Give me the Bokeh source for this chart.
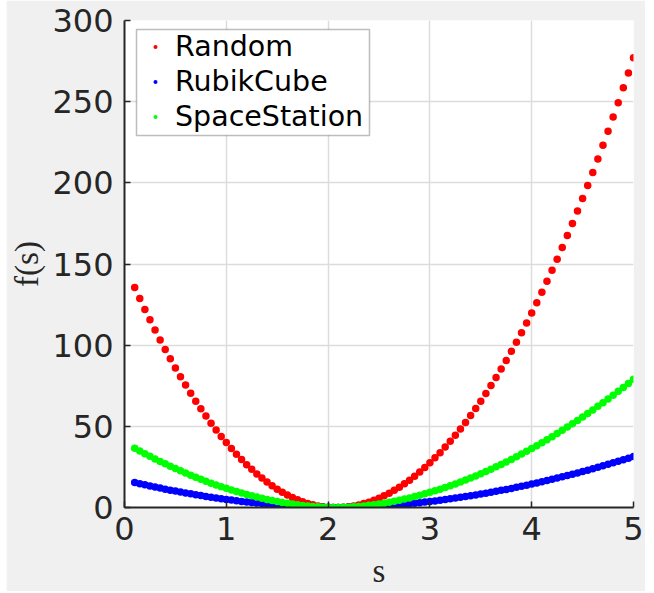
import numpy as np
from bokeh.plotting import figure
from bokeh.models import (ColumnDataSource, FixedTicker, Legend, LegendItem,
                          Range1d, BoxAnnotation, Spacer)
from bokeh.layouts import row
from bokeh.embed import file_html
from bokeh.resources import INLINE

# sample grid of step sizes s (0.10 ... 5.00)
s = np.round(np.arange(0.10, 5.0001, 0.05), 2)

# objective values f(s) for each test problem
f_random = [
    135.5, 128.7, 122.0, 115.6, 109.3, 103.2, 97.3, 91.6, 86.0,
    80.6, 75.4, 70.4, 65.5, 60.8, 56.3, 51.9, 47.8, 43.8, 40.0,
    36.3, 32.8, 29.5, 26.4, 23.5, 20.7, 18.1, 15.7, 13.4, 11.3,
    9.4, 7.7, 6.2, 4.8, 3.6, 2.5, 1.7, 1.0, 0.5, 0.2,
    0.0,
    0.0, 0.2, 0.5, 0.9, 1.6, 2.4, 3.3, 4.4, 5.7, 7.2,
    8.8, 10.6, 12.5, 14.6, 16.8, 19.3, 21.9, 24.6, 27.5,
    30.6, 33.8, 37.2, 40.8, 44.5, 48.4, 52.4, 56.6, 61.0, 65.5,
    70.2, 75.1, 80.1, 85.3, 90.6, 96.2, 101.8, 107.7, 113.7, 119.8,
    126.1, 132.6, 139.3, 146.1, 153.0, 160.2, 167.5, 174.9, 182.6, 190.3,
    198.3, 206.4, 214.7, 223.1, 231.7, 240.5, 249.4, 258.5, 267.7, 277.1,
]

f_rubik = [
    15.4, 14.7, 14.0, 13.3, 12.6, 12.0, 11.3, 10.7, 10.1, 9.5,
    8.96, 8.40, 7.86, 7.34, 6.83, 6.34, 5.87, 5.41, 4.97, 4.55,
    4.15, 3.76, 3.39, 3.04, 2.71, 2.39, 2.09, 1.81, 1.55, 1.31,
    1.08, 0.88, 0.70, 0.53, 0.39, 0.27, 0.17, 0.09, 0.03, 0.00,
    0.00, 0.03, 0.09, 0.16, 0.26, 0.38, 0.52, 0.69, 0.87, 1.07,
    1.29, 1.52, 1.78, 2.06, 2.35, 2.67, 2.99, 3.34, 3.70,
    4.08, 4.48, 4.89, 5.33, 5.78, 6.24, 6.72, 7.22, 7.73, 8.26,
    8.81, 9.37, 9.95, 10.55, 11.15, 11.78, 12.42, 13.08, 13.75, 14.44,
    15.14, 15.86, 16.60, 17.34, 18.11, 18.89, 19.69, 20.50, 21.32, 22.16,
    23.01, 23.88, 24.77, 25.67, 26.58, 27.51, 28.45, 29.41, 30.38, 31.37,
]

f_station = [
    36.5, 34.8, 33.1, 31.5, 29.9, 28.4, 26.9, 25.4, 24.0, 22.6,
    21.2, 19.9, 18.6, 17.4, 16.2, 15.0, 13.9, 12.8, 11.8, 10.8,
    9.8, 8.9, 8.0, 7.2, 6.4, 5.7, 5.0, 4.3, 3.7, 3.1,
    2.6, 2.1, 1.65, 1.26, 0.92, 0.63, 0.39, 0.21, 0.08, 0.01,
    0.01, 0.08, 0.22, 0.41, 0.66, 0.96, 1.32, 1.73, 2.18, 2.68,
    3.24, 3.84, 4.49, 5.19, 5.92, 6.71, 7.53, 8.40, 9.32,
    10.27, 11.27, 12.32, 13.40, 14.53, 15.71, 16.91, 18.16, 19.46, 20.79,
    22.17, 23.59, 25.04, 26.53, 28.07, 29.64, 31.26, 32.91, 34.60, 36.34,
    38.10, 39.91, 41.76, 43.64, 45.57, 47.53, 49.53, 51.58, 53.64, 55.76,
    57.90, 60.09, 62.32, 64.58, 66.88, 69.21, 71.58, 73.99, 76.44, 78.93,
]

series_names = ["Random", "RubikCube", "SpaceStation"]
series_colors = ["#ff0000", "#0000ff", "#00ff00"]
x_ticks = [0, 1, 2, 3, 4, 5]
y_ticks = [0, 50, 100, 150, 200, 250, 300]

source = ColumnDataSource(data=dict(s=s, Random=f_random,
                                    RubikCube=f_rubik, SpaceStation=f_station))

p = figure(width=639, height=591,
           x_range=Range1d(0, 5), y_range=Range1d(0, 300),
           output_backend="svg", toolbar_location=None,
           min_border_left=117, min_border_right=12,
           min_border_top=20, min_border_bottom=83)

p.border_fill_color = "#f0f0f0"
p.background_fill_color = "white"
p.outline_line_color = None

renderers = []
for name, color in zip(series_names, series_colors):
    r = p.scatter("s", name, source=source, size=7.5, marker="circle",
                  fill_color=color, line_color=None)
    renderers.append(r)

ink = "#262626"
for ax in (p.xaxis[0], p.yaxis[0]):
    ax.axis_line_color = ink
    ax.axis_line_width = 2
    ax.major_tick_line_color = ink
    ax.major_tick_line_width = 1.5
    ax.major_tick_in = 6
    ax.major_tick_out = 0
    ax.minor_tick_line_color = None
    ax.major_label_text_font = "DejaVu Sans"
    ax.major_label_text_font_size = "32px"
    ax.major_label_text_color = ink
    ax.axis_label_text_font = "Liberation Serif"
    ax.axis_label_text_font_size = "33px"
    ax.axis_label_text_font_style = "normal"
    ax.axis_label_text_color = ink

p.xaxis[0].ticker = FixedTicker(ticks=x_ticks)
p.yaxis[0].ticker = FixedTicker(ticks=y_ticks)
p.xaxis[0].major_label_standoff = 9
p.yaxis[0].major_label_standoff = 11
p.xaxis[0].axis_label = "s"
p.yaxis[0].axis_label = "f(s)"
p.xaxis[0].axis_label_standoff = 10
p.yaxis[0].axis_label_standoff = 4

for g in (p.xgrid[0], p.ygrid[0]):
    g.grid_line_color = "#dcdcdc"
    g.grid_line_width = 1.5

# legend frame
legend_box = BoxAnnotation(left=12, right=245, bottom=372, top=478,
                           left_units="screen", right_units="screen",
                           bottom_units="screen", top_units="screen",
                           fill_color="white", fill_alpha=1.0,
                           line_color=ink, line_width=1.5)
p.add_layout(legend_box)

legend = Legend(items=[LegendItem(label=n, renderers=[r])
                       for n, r in zip(series_names, renderers)],
                location=(26, 373), padding=0, spacing=0, margin=0,
                glyph_width=10, glyph_height=35, label_height=35,
                label_standoff=15,
                label_text_font="DejaVu Sans", label_text_font_size="28.5px",
                label_text_color="black",
                border_line_color=None, background_fill_alpha=0)
p.add_layout(legend)

layout = row(Spacer(width=6, height=591), p)

open("out.html", "w").write(file_html(layout, INLINE))
